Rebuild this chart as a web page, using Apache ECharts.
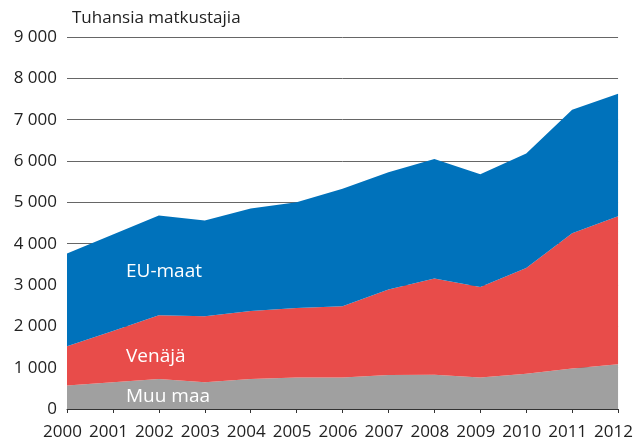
<!DOCTYPE html>
<html>
<head>
<meta charset="utf-8">
<style>
  html, body { margin: 0; padding: 0; background: #ffffff; }
  #chart { width: 636px; height: 441px; }
</style>
<script src="https://cdn.jsdelivr.net/npm/echarts@6/dist/echarts.min.js"></script>
</head>
<body>
<div id="chart"></div>
<script>
// Matkustajat alkuperämaan mukaan, tuhansia
const years = ['2000','2001','2002','2003','2004','2005','2006','2007','2008','2009','2010','2011','2012'];
const muuMaa = [570, 650, 725, 650, 725, 760, 760, 820, 830, 760, 850, 980, 1085];
const venaja = [950, 1240, 1545, 1595, 1645, 1685, 1725, 2070, 2330, 2190, 2560, 3270, 3580];
const euMaat = [2240, 2330, 2410, 2315, 2480, 2555, 2845, 2840, 2890, 2730, 2770, 2990, 2965];
const yTicks = { min: 0, max: 9000, step: 1000 };

const FONT = '"Open Sans", "Noto Sans", sans-serif';
const colors = { muu: '#a0a0a0', ven: '#e84c4a', eu: '#0072bb' };

function fmtThousands(v) {
  return String(v).replace(/\B(?=(\d{3})+(?!\d))/g, ' ');
}

function areaSeries(name, data, color) {
  return {
    name: name,
    type: 'line',
    stack: 'total',
    data: data,
    symbol: 'none',
    lineStyle: { width: 0 },
    areaStyle: { color: color, opacity: 1 },
    itemStyle: { color: color },
    emphasis: { disabled: true },
    silent: true
  };
}

const chart = echarts.init(document.getElementById('chart'), null, { renderer: 'canvas' });
chart.setOption({
  animation: false,
  grid: { left: 67, right: 14, top: 37, bottom: 31 },
  xAxis: {
    type: 'category',
    data: years,
    boundaryGap: false,
    axisLine: { show: true, lineStyle: { color: '#333333', width: 1 } },
    axisTick: { show: true, length: 4, lineStyle: { color: '#333333' } },
    axisLabel: {
      color: '#222222', fontFamily: FONT, fontSize: 17, margin: 15,
      padding: [0, 9, 0, 0], interval: 0
    },
    splitLine: { show: false }
  },
  yAxis: {
    type: 'value',
    min: yTicks.min,
    max: yTicks.max,
    interval: yTicks.step,
    axisLine: { show: false },
    axisTick: { show: false },
    axisLabel: {
      color: '#222222', fontFamily: FONT, fontSize: 17, margin: 10,
      formatter: fmtThousands
    },
    splitLine: { show: true, lineStyle: { color: '#666666', width: 1 } }
  },
  series: [
    areaSeries('Muu maa', muuMaa, colors.muu),
    areaSeries('Venäjä', venaja, colors.ven),
    areaSeries('EU-maat', euMaat, colors.eu)
  ],
  graphic: {
    elements: [
      { type: 'text', left: 72, top: 10, z: 100,
        style: { text: 'Tuhansia matkustajia', fill: '#222222', font: '17px ' + FONT } },
      { type: 'text', left: 126, top: 262, z: 100,
        style: { text: 'EU-maat', fill: '#ffffff', font: '19px ' + FONT } },
      { type: 'text', left: 126, top: 347, z: 100,
        style: { text: 'Venäjä', fill: '#ffffff', font: '19px ' + FONT } },
      { type: 'text', left: 126, top: 387, z: 100,
        style: { text: 'Muu maa', fill: '#ffffff', font: '19px ' + FONT } }
    ]
  }
});
</script>
</body>
</html>
